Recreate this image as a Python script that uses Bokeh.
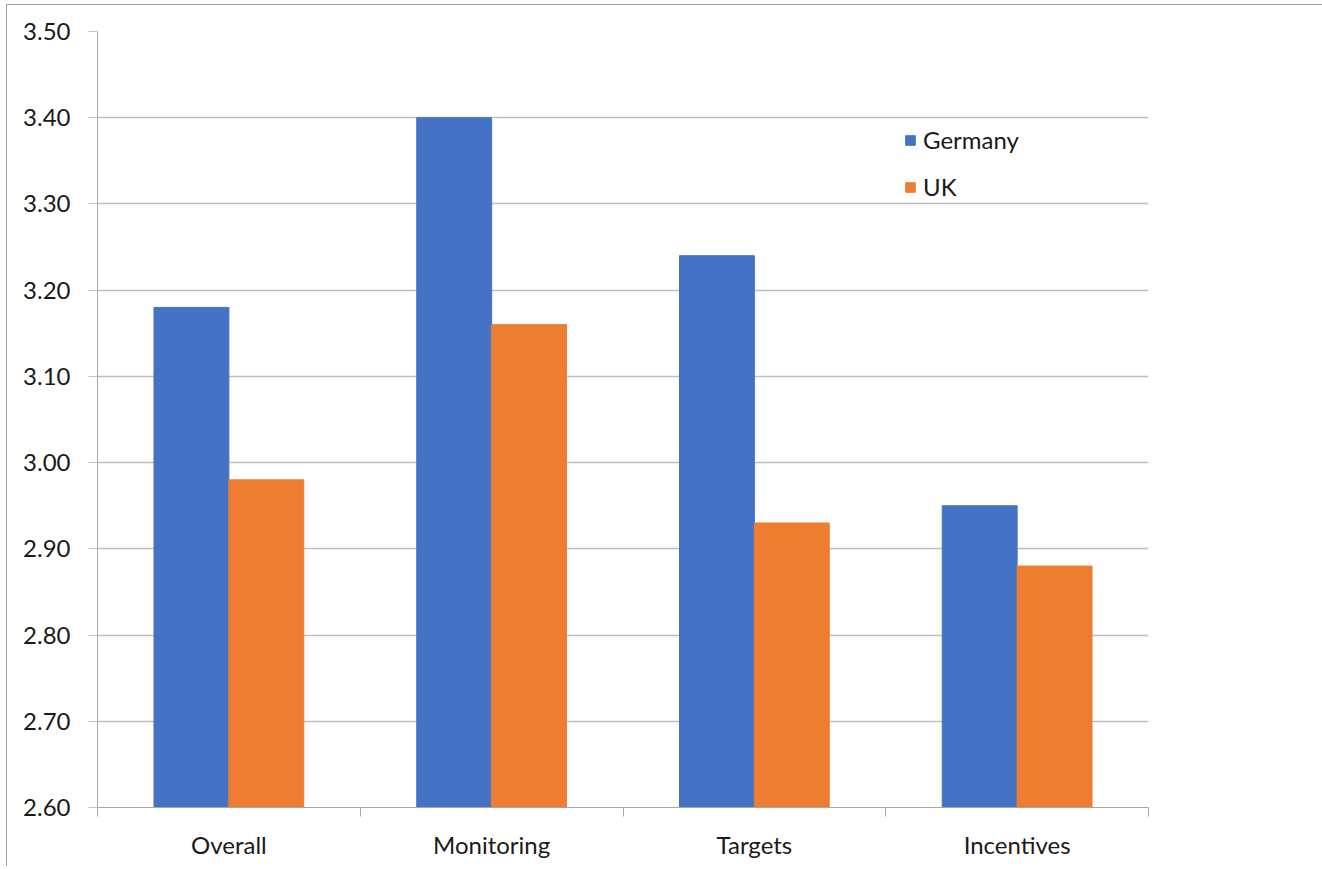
from bokeh.plotting import figure
from bokeh.models import FixedTicker, Range1d, Legend, LegendItem, ColumnDataSource
from bokeh.embed import file_html
from bokeh.resources import INLINE

categories = ["Overall", "Monitoring", "Targets", "Incentives"]
germany = [3.18, 3.40, 3.24, 2.95]
uk = [2.98, 3.16, 2.93, 2.88]
y_ticks = [2.6, 2.7, 2.8, 2.9, 3.0, 3.1, 3.2, 3.3, 3.4, 3.5]

FONT = "Lato"
FS = "24px"
centers = [i + 0.5 for i in range(len(categories))]
bw = 0.285

p = figure(width=1316, height=865, output_backend="svg", toolbar_location=None,
           x_range=Range1d(0, len(categories)), y_range=Range1d(2.6, 3.5),
           min_border_left=90, min_border_top=26, min_border_right=175, min_border_bottom=59,
           frame_width=1051, frame_height=776)
p.margin = (4, 0, 0, 6)
p.styles = {"border-top": "1px solid #a0a0a0", "border-left": "1px solid #a0a0a0"}
p.outline_line_color = None

src_g = ColumnDataSource(dict(x=[c - bw / 2 for c in centers], top=germany))
src_u = ColumnDataSource(dict(x=[c + bw / 2 for c in centers], top=uk))
rg = p.vbar(x="x", top="top", bottom=2.6, width=bw, color="#4472C4", source=src_g)
ru = p.vbar(x="x", top="top", bottom=2.6, width=bw, color="#ED7D31", source=src_u)

p.xgrid.visible = False
p.ygrid.grid_line_color = "#c0c0c0"
p.ygrid.grid_line_width = 1.3
p.yaxis.ticker = FixedTicker(ticks=y_ticks)
p.yaxis.major_label_overrides = {t: f"{t:.2f}" for t in y_ticks}
p.yaxis.axis_line_color = "#a6a6a6"
p.yaxis.major_tick_line_color = "#c0c0c0"
p.yaxis.major_tick_out = 9
p.yaxis.major_tick_in = 0
p.yaxis.minor_tick_line_color = None
p.yaxis.major_label_standoff = 18

p.xaxis.ticker = FixedTicker(ticks=centers, minor_ticks=list(range(len(categories) + 1)))
p.xaxis.major_label_overrides = {c: cat for c, cat in zip(centers, categories)}
p.xaxis.axis_line_color = "#a6a6a6"
p.xaxis.major_tick_line_color = None
p.xaxis.major_tick_out = 0
p.xaxis.major_tick_in = 0
p.xaxis.minor_tick_line_color = "#a6a6a6"
p.xaxis.minor_tick_out = 9
p.xaxis.minor_tick_in = 0
p.xaxis.major_label_standoff = 13

for ax in (p.xaxis, p.yaxis):
    ax.major_label_text_font = FONT
    ax.major_label_text_font_size = FS
    ax.major_label_text_color = "#1a1a1a"

legend = Legend(items=[LegendItem(label="Germany", renderers=[rg]),
                       LegendItem(label="UK", renderers=[ru])],
                location=(807, 606), glyph_width=12, glyph_height=12,
                label_height=20, spacing=18, padding=0, margin=0,
                label_standoff=7, border_line_color=None, background_fill_alpha=0,
                label_text_font=FONT, label_text_font_size=FS, label_text_color="#1a1a1a")
p.add_layout(legend)

open("out.html", "w").write(file_html(p, INLINE))
